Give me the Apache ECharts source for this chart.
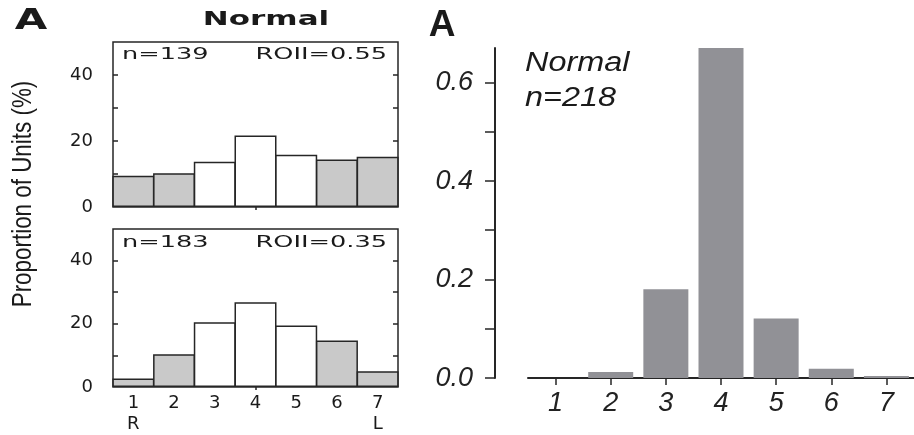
<!DOCTYPE html>
<html>
<head>
<meta charset="utf-8">
<script src="https://cdn.jsdelivr.net/npm/echarts@6/dist/echarts.min.js"></script>
<style>
  html, body { margin: 0; padding: 0; background: #fff; }
  #chart { width: 914px; height: 435px; }
</style>
</head>
<body>
<div id="chart"></div>
<script>
// Position bins 1..7 (R = right, L = left)
const categories = ['1', '2', '3', '4', '5', '6', '7'];
const sideLabels = ['R', '', '', '', '', '', 'L'];

// Proportion of units (%) per bin, two populations
const upperValues = [9.5, 10.2, 13.7, 21.7, 15.8, 14.4, 15.2];
const lowerValues = [2.7, 10.4, 20.5, 26.8, 19.5, 14.7, 5.0];
const shaded = [true, true, false, false, false, true, true];
const upperStats = ['n=139', 'ROII=0.55'];
const lowerStats = ['n=183', 'ROII=0.35'];
const pctTicks = [10, 20, 30, 40];
const pctLabels = [0, 20, 40];

// Fraction of units per bin
const fractionValues = [0, 0.012, 0.18, 0.67, 0.121, 0.019, 0.004];
const fractionTicks = [0, 0.1, 0.2, 0.3, 0.4, 0.5, 0.6];
const fractionLabels = [0, 0.2, 0.4, 0.6];
const fractionStats = ['Normal', 'n=218'];

const INK = '#262626';
const LEFT_FONT = '"DejaVu Sans"';
const RIGHT_FONT = '"Liberation Sans", Arial, sans-serif';

const chart = echarts.init(document.getElementById('chart'), null, { renderer: 'canvas' });

function boxGrid(top) {
  return { left: 113, top: top, width: 285, height: 165, show: true,
           borderColor: INK, borderWidth: 1.5, backgroundColor: 'transparent' };
}
function centerTickAxis(gridIndex, position, withLabels) {
  return {
    type: 'category', gridIndex, position, data: categories,
    axisLine: { show: false },
    axisTick: { show: true, inside: true, length: 3, alignWithLabel: true,
                interval: (i) => i === 3, lineStyle: { color: INK, width: 1.5 } },
    axisLabel: withLabels ? {
      show: true, interval: 0, margin: 6, color: '#1a1a1a',
      fontFamily: LEFT_FONT, fontSize: 18, lineHeight: 21,
      formatter: (v, i) => sideLabels[i] ? v + '\n' + sideLabels[i] : v
    } : { show: false },
    splitLine: { show: false }
  };
}
function pctAxis(gridIndex, position, withLabels) {
  return {
    type: 'value', gridIndex, position, min: 0, max: 50,
    axisLine: { show: false },
    splitLine: { show: false },
    axisTick: { show: true, inside: true, length: 5, customValues: pctTicks,
                lineStyle: { color: INK, width: 1.5 } },
    axisLabel: withLabels ? {
      show: true, customValues: pctLabels, margin: 20, color: '#1a1a1a',
      fontFamily: LEFT_FONT, fontSize: 18
    } : { show: false }
  };
}
function histData(values) {
  return values.map((v, i) => ({ value: v, itemStyle: { color: shaded[i] ? '#c9c9c9' : '#ffffff' } }));
}
function txt(x, y, text, font, align, scaleX, extra) {
  return Object.assign({
    type: 'text', x, y, scaleX: scaleX || 1, z: 100,
    style: { text, font, fill: '#1a1a1a', align, verticalAlign: 'middle',
             textAlign: align, textVerticalAlign: 'middle' }
  }, extra || {});
}
// Histogram bars touch each other: each bar spans its whole category band
const histBar = (xi, yi, values) => ({
  type: 'bar', xAxisIndex: xi, yAxisIndex: yi, data: histData(values),
  barWidth: 42, barGap: '0%', barCategoryGap: '0%',
  itemStyle: { borderColor: INK, borderWidth: 1.5 }
});

const option = {
  animation: false,
  backgroundColor: '#ffffff',
  grid: [
    boxGrid(42),
    boxGrid(229),
    { left: 528, top: 48, width: 389, height: 330 }
  ],
  xAxis: [
    centerTickAxis(0, 'bottom', false),
    centerTickAxis(0, 'top', false),
    centerTickAxis(1, 'bottom', true),
    centerTickAxis(1, 'top', false),
    {
      type: 'category', gridIndex: 2, position: 'bottom', data: categories,
      axisLine: { show: true, lineStyle: { color: INK, width: 2 } },
      axisTick: { show: true, alignWithLabel: true, length: 7, lineStyle: { color: INK, width: 1.5 } },
      axisLabel: { interval: 0, margin: 12, color: '#222', fontFamily: RIGHT_FONT,
                   fontStyle: 'italic', fontSize: 27 },
      splitLine: { show: false }
    }
  ],
  yAxis: [
    pctAxis(0, 'left', true),
    pctAxis(0, 'right', false),
    pctAxis(1, 'left', true),
    pctAxis(1, 'right', false),
    {
      type: 'value', gridIndex: 2, position: 'left', offset: 33, min: 0, max: 0.67,
      axisLine: { show: true, lineStyle: { color: INK, width: 2 } },
      splitLine: { show: false },
      axisTick: { show: true, length: 10, customValues: fractionTicks,
                  lineStyle: { color: INK, width: 1.5 } },
      axisLabel: { customValues: fractionLabels, margin: 22, color: '#222',
                   fontFamily: RIGHT_FONT, fontStyle: 'italic', fontSize: 27,
                   formatter: (v) => v.toFixed(1) }
    }
  ],
  series: [
    histBar(0, 0, upperValues),
    histBar(2, 2, lowerValues),
    { type: 'bar', xAxisIndex: 4, yAxisIndex: 4, data: fractionValues,
      barWidth: 45, itemStyle: { color: '#919196' } }
  ],
  graphic: { elements: [
    txt(31, 22, 'A', 'bold 28px ' + LEFT_FONT, 'center', 1.5),
    txt(266, 20, 'Normal', 'bold 20px ' + LEFT_FONT, 'center', 1.55),
    txt(122, 55, upperStats[0], '16px ' + LEFT_FONT, 'left', 1.6),
    txt(387, 55, upperStats[1], '16px ' + LEFT_FONT, 'right', 1.6),
    txt(122, 243, lowerStats[0], '16px ' + LEFT_FONT, 'left', 1.6),
    txt(387, 243, lowerStats[1], '16px ' + LEFT_FONT, 'right', 1.6),
    txt(23, 194, 'Proportion of Units (%)', '28px "Liberation Sans", sans-serif',
        'center', 0.8, { rotation: Math.PI / 2 }),
    txt(442, 26, 'A', 'bold 37px ' + RIGHT_FONT, 'center', 1),
    txt(525, 63, fractionStats[0], 'italic 27px ' + RIGHT_FONT, 'left', 1.2),
    txt(525, 98, fractionStats[1], 'italic 27px ' + RIGHT_FONT, 'left', 1.2)
  ] }
};

chart.setOption(option);
</script>
</body>
</html>
